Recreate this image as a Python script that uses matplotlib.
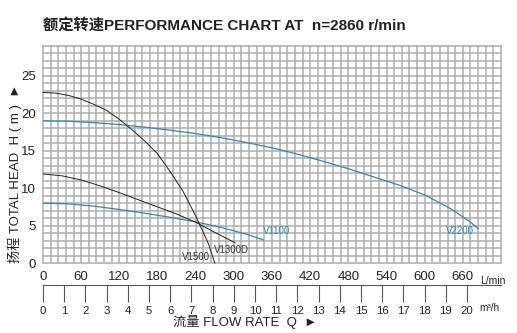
import numpy as np
import matplotlib.pyplot as plt

plt.rcParams['font.family'] = ['Liberation Sans', 'Noto Sans CJK SC', 'DejaVu Sans']

# flow (L/min) and head (m)
q_v2200 = [0, 40, 80, 120, 160, 200, 240, 280, 320, 360, 400, 440, 480, 520, 560, 600, 640, 670, 684]
h_v2200 = [19.0, 18.95, 18.75, 18.5, 18.15, 17.75, 17.3, 16.75, 16.1, 15.4, 14.55, 13.6, 12.6,
           11.5, 10.4, 9.1, 7.3, 5.6, 4.6]

q_v1500 = [0, 20, 40, 60, 80, 100, 120, 140, 160, 180, 200, 220, 240, 260, 270]
h_v1500 = [22.8, 22.7, 22.4, 21.9, 21.2, 20.4, 19.2, 17.8, 16.3, 14.6, 12.2, 9.6, 6.3, 2.6, 0.0]

q_v1300d = [0, 30, 60, 90, 120, 150, 180, 210, 240, 270, 302]
h_v1300d = [11.9, 11.65, 11.1, 10.3, 9.4, 8.45, 7.5, 6.55, 5.45, 4.1, 2.7]

q_v1100 = [0, 40, 80, 120, 160, 200, 240, 280, 320, 346]
h_v1100 = [8.0, 7.9, 7.6, 7.15, 6.65, 6.1, 5.5, 4.75, 3.85, 3.1]

lmin_ticks = [0, 60, 120, 180, 240, 300, 360, 420, 480, 540, 600, 660]
m3h_labels = list(range(21))
head_ticks = [0, 5, 10, 15, 20, 25]

blue = '#2f86bd'
grid_c = '#adadad'
ink = '#222222'

fig = plt.figure(figsize=(5.17, 3.33), dpi=100)
ax = fig.add_axes([43 / 517, 1 - 263 / 333, 458 / 517, 217 / 333])
ax.set_xlim(0, 720)
ax.set_ylim(0, 29)

ax.set_xticks(lmin_ticks)
ax.set_xticklabels([str(t) for t in lmin_ticks], fontsize=9.5, color=ink)
ax.set_yticks(head_ticks)
ax.set_yticklabels([str(t) for t in head_ticks], fontsize=9.5, color=ink)
ax.tick_params(length=0)
ax.tick_params(axis='x', pad=6)
ax.tick_params(axis='y', pad=5)

# square grid: 12 L/min x 1 m
for gx in np.arange(12, 720, 12):
    ax.axvline(gx, color=grid_c, lw=1.1, zorder=1)
for gy in np.arange(1, 29, 1):
    ax.axhline(gy, color=grid_c, lw=1.1, zorder=1)
for s in ax.spines.values():
    s.set_color(grid_c)
    s.set_linewidth(1.1)

ax.plot(q_v2200, h_v2200, color=blue, lw=0.9, zorder=3)
ax.plot(q_v1100, h_v1100, color=blue, lw=0.9, zorder=3)
ax.plot(q_v1500, h_v1500, color=ink, lw=0.7, clip_on=False, zorder=3)
ax.plot(q_v1300d, h_v1300d, color=ink, lw=0.7, zorder=3)

ax.text(346, 4.3, 'V1100', color=blue, fontsize=7, va='center', zorder=4)
ax.text(634, 4.3, 'V2200', color=blue, fontsize=7, va='center', zorder=4)
ax.text(268, 1.7, 'V1300D', color='#333333', fontsize=7, va='center', zorder=4)
ax.text(262, 0.1, 'V1500', color='#333333', fontsize=7, ha='right', va='bottom', zorder=4)

fig.text(480 / 517, 1 - 281 / 333, 'L/min', fontsize=7.5, color=ink, ha='left', va='center')

# second flow scale in m3/h
sec = ax.secondary_xaxis(-0.101)
sec.set_xticks([i * 100 / 3 for i in m3h_labels])
sec.set_xticklabels([str(i) for i in m3h_labels], fontsize=8.2, color=ink)
sec.tick_params(length=12, width=0.8, color='#555555', pad=3)
sec.spines['bottom'].set_color('#555555')
sec.spines['bottom'].set_linewidth(0.8)
fig.text(479 / 517, 1 - 308 / 333, 'm³/h', fontsize=7.2, color=ink, ha='left', va='center')

fig.text(43 / 517, 1 - 25 / 333, '额定转速PERFORMANCE CHART AT  n=2860 r/min',
         fontsize=11, fontweight='bold', color=ink, ha='left', va='center')
fig.text(15 / 517, 1 - 173 / 333, '扬程 TOTAL HEAD  H ( m )  ►', rotation=90,
         fontsize=9.5, color=ink, ha='center', va='center')
fig.text(245 / 517, 1 - 322 / 333, '流量 FLOW RATE  Q  ►',
         fontsize=9.5, color=ink, ha='center', va='center')

fig.savefig('out.png', dpi=100)
